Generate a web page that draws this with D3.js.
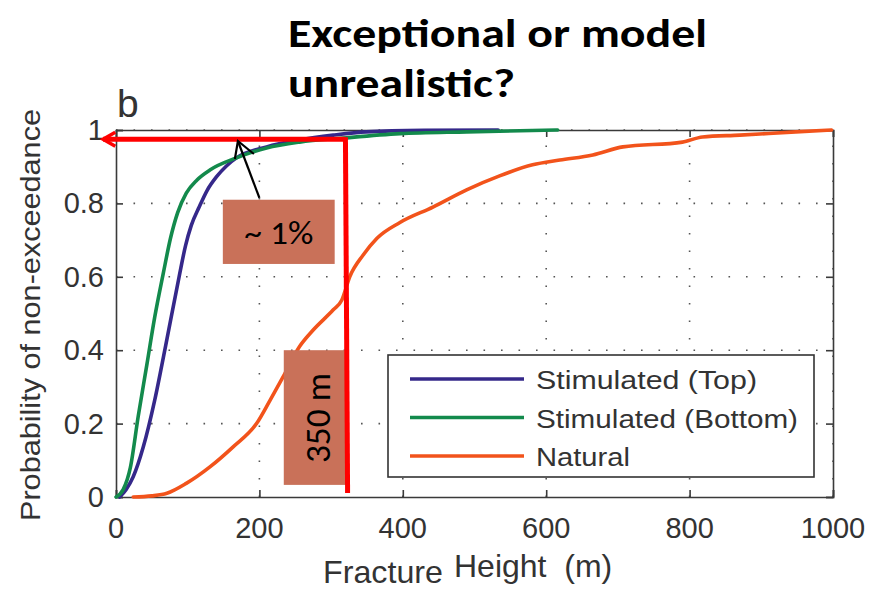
<!DOCTYPE html>
<html>
<head>
<meta charset="utf-8">
<script src="https://cdn.jsdelivr.net/npm/d3@7"></script>
<style>
  body { margin: 0; background: #fff; }
  svg { display: block; }
</style>
</head>
<body>
<div id="chart"></div>
<script>
// CDF curves: fracture height (m) vs probability
const topHeight = [5, 14, 24, 38, 54, 69, 88, 97, 105, 116, 127, 140, 154, 168, 210, 256, 303, 349, 430, 533];
const topProb   = [0, 0.02, 0.055, 0.136, 0.264, 0.41, 0.6, 0.685, 0.74, 0.79, 0.835, 0.872, 0.902, 0.924, 0.954, 0.973, 0.986, 0.995, 0.999, 1];

const bottomHeight = [0, 10, 20, 31, 43, 54, 66, 76, 86, 98, 113, 131, 168, 210, 256, 317, 396, 489, 616];
const bottomProb   = [0, 0.02, 0.08, 0.22, 0.36, 0.49, 0.61, 0.705, 0.775, 0.828, 0.864, 0.891, 0.924, 0.951, 0.967, 0.978, 0.99, 0.995, 1];

const naturalHeight = [24, 50, 71, 98, 131, 163, 196, 215, 233, 256, 275, 303, 315, 326, 345, 364, 396, 442, 489, 535, 581, 619, 665, 707, 790, 818, 870, 948, 998];
const naturalProb   = [0, 0.003, 0.01, 0.037, 0.082, 0.136, 0.2, 0.264, 0.327, 0.41, 0.455, 0.51, 0.537, 0.6, 0.66, 0.705, 0.748, 0.79, 0.837, 0.875, 0.905, 0.918, 0.932, 0.954, 0.967, 0.981, 0.986, 0.995, 1];

const seriesNames = ['Stimulated (Top)', 'Stimulated (Bottom)', 'Natural'];
const xTicks = [0, 200, 400, 600, 800, 1000];
const yTicks = [0, 0.2, 0.4, 0.6, 0.8, 1];

// annotation positions in data units
const markHeight = 320;
const markProb = 0.975;

const WIDTH = 878;
const HEIGHT = 590;
const colors = ['#35288a', '#138a4c', '#f2531b'];
const tickFont = '"Liberation Sans", Arial, sans-serif';
const noteFont = 'Carlito, Lato, "Open Sans", sans-serif';

const svg = d3.select('#chart')
    .append('svg')
    .attr('width', WIDTH)
    .attr('height', HEIGHT);

const xScale = d3.scaleLinear().domain([0, 1000]).range([116, 833]);
const yScale = d3.scaleLinear().domain([0, 1]).range([497, 130]);

// dotted grid
svg.append('g')
    .selectAll('line')
    .data(xTicks.slice(1))
    .enter()
    .append('line')
    .attr('x1', d => xScale(d))
    .attr('x2', d => xScale(d))
    .attr('y1', yScale(0))
    .attr('y2', yScale(1))
    .attr('stroke', '#555')
    .attr('stroke-width', 1.6)
    .attr('stroke-dasharray', '1.6,15.9');

svg.append('g')
    .selectAll('line')
    .data(yTicks.slice(1))
    .enter()
    .append('line')
    .attr('x1', xScale(0))
    .attr('x2', xScale(1000))
    .attr('y1', d => yScale(d))
    .attr('y2', d => yScale(d))
    .attr('stroke', '#555')
    .attr('stroke-width', 1.6)
    .attr('stroke-dasharray', '1.6,15.9');

// axes box with inward ticks
const bottomAxis = d3.axisBottom(xScale).tickValues(xTicks).tickSize(-7).tickFormat('');
const topAxis = d3.axisTop(xScale).tickValues(xTicks).tickSize(-7).tickFormat('');
const leftAxis = d3.axisLeft(yScale).tickValues(yTicks).tickSize(-7).tickFormat('');
const rightAxis = d3.axisRight(yScale).tickValues(yTicks).tickSize(-7).tickFormat('');

[[bottomAxis, `translate(0,${yScale(0)})`], [topAxis, `translate(0,${yScale(1)})`],
 [leftAxis, `translate(${xScale(0)},0)`], [rightAxis, `translate(${xScale(1000)},0)`]]
    .forEach(([ax, tr]) => {
        const g = svg.append('g').attr('transform', tr).call(ax);
        g.selectAll('path, line').attr('stroke', '#3a3a3a').attr('stroke-width', 1.6);
    });

// tick labels
svg.append('g')
    .selectAll('text')
    .data(xTicks)
    .enter()
    .append('text')
    .attr('x', d => xScale(d))
    .attr('y', 538)
    .attr('text-anchor', 'middle')
    .attr('font-family', tickFont)
    .attr('font-size', 29)
    .attr('fill', '#333')
    .text(d => d);

svg.append('g')
    .selectAll('text')
    .data(yTicks)
    .enter()
    .append('text')
    .attr('x', 104)
    .attr('y', d => yScale(d) + 10)
    .attr('text-anchor', 'end')
    .attr('font-family', tickFont)
    .attr('font-size', 29)
    .attr('fill', '#333')
    .text(d => d);

// axis titles
svg.append('text')
    .attr('transform', 'translate(40,315) rotate(-90)')
    .attr('text-anchor', 'middle')
    .attr('font-family', tickFont)
    .attr('font-size', 28)
    .attr('fill', '#333')
    .attr('textLength', 412)
    .attr('lengthAdjust', 'spacingAndGlyphs')
    .text('Probability of non-exceedance');

svg.append('text')
    .attr('x', 323).attr('y', 583)
    .attr('font-family', tickFont)
    .attr('font-size', 32)
    .attr('fill', '#333')
    .attr('textLength', 120)
    .attr('lengthAdjust', 'spacingAndGlyphs')
    .text('Fracture');

svg.append('text')
    .attr('x', 454).attr('y', 577)
    .attr('font-family', tickFont)
    .attr('font-size', 32)
    .attr('fill', '#333')
    .attr('xml:space', 'preserve')
    .text('Height  (m)');

svg.append('text')
    .attr('x', 117).attr('y', 117)
    .attr('font-family', tickFont)
    .attr('font-size', 39)
    .attr('fill', '#333')
    .text('b');

// curves
const line = d3.line()
    .x(d => xScale(d[0]))
    .y(d => yScale(d[1]))
    .curve(d3.curveMonotoneX);

const series = [
    d3.zip(topHeight, topProb),
    d3.zip(bottomHeight, bottomProb),
    d3.zip(naturalHeight, naturalProb)
];

svg.append('g')
    .selectAll('path')
    .data(series)
    .enter()
    .append('path')
    .attr('d', line)
    .attr('fill', 'none')
    .attr('stroke', (d, i) => colors[i])
    .attr('stroke-width', 3.6)
    .attr('stroke-linejoin', 'round')
    .attr('stroke-linecap', 'round');

// legend
svg.append('rect')
    .attr('x', 388).attr('y', 355)
    .attr('width', 426).attr('height', 122)
    .attr('fill', '#fff')
    .attr('stroke', '#333')
    .attr('stroke-width', 1.6);

const legendWidths = [221, 262, 94];
const legend = svg.append('g')
    .selectAll('g')
    .data(seriesNames)
    .enter()
    .append('g')
    .attr('transform', (d, i) => `translate(0,${379 + i * 38.5})`);

legend.append('line')
    .attr('x1', 410).attr('x2', 524)
    .attr('stroke', (d, i) => colors[i])
    .attr('stroke-width', 3.6);

legend.append('text')
    .attr('x', 536).attr('y', 10)
    .attr('font-family', tickFont)
    .attr('font-size', 26)
    .attr('fill', '#333')
    .attr('textLength', (d, i) => legendWidths[i])
    .attr('lengthAdjust', 'spacingAndGlyphs')
    .text(d => d);

// annotation boxes
const noteFill = '#c97159';

svg.append('rect')
    .attr('x', xScale(149)).attr('y', yScale(0.81))
    .attr('width', xScale(305) - xScale(149))
    .attr('height', yScale(0.635) - yScale(0.81))
    .attr('fill', noteFill);

svg.append('text')
    .attr('x', xScale(227)).attr('y', 244)
    .attr('text-anchor', 'middle')
    .attr('font-family', noteFont)
    .attr('font-size', 32)
    .attr('fill', '#000')
    .attr('textLength', 69)
    .attr('lengthAdjust', 'spacingAndGlyphs')
    .text('~ 1%');

svg.append('rect')
    .attr('x', xScale(234)).attr('y', yScale(0.4))
    .attr('width', xScale(321) - xScale(234))
    .attr('height', yScale(0.033) - yScale(0.4))
    .attr('fill', noteFill);

svg.append('text')
    .attr('transform', `translate(${xScale(298)},${yScale(0.215)}) rotate(-90)`)
    .attr('text-anchor', 'middle')
    .attr('font-family', noteFont)
    .attr('font-size', 34)
    .attr('fill', '#000')
    .attr('textLength', 90)
    .attr('lengthAdjust', 'spacingAndGlyphs')
    .text('350 m');

// red marker lines
svg.append('path')
    .attr('d', `M${xScale(markHeight)},${yScale(markProb)} L${xScale(-18)},${yScale(markProb)}`)
    .attr('stroke', '#ff0000')
    .attr('stroke-width', 5)
    .attr('fill', 'none');

svg.append('path')
    .attr('d', `M${xScale(-1)},${yScale(markProb) - 7} L${xScale(-18)},${yScale(markProb)} L${xScale(-1)},${yScale(markProb) + 7}`)
    .attr('stroke', '#ff0000')
    .attr('stroke-width', 3.5)
    .attr('stroke-linejoin', 'miter')
    .attr('fill', 'none');

svg.append('path')
    .attr('d', `M${xScale(markHeight)},${yScale(markProb) - 2} L${xScale(323)},${yScale(0.011)}`)
    .attr('stroke', '#ff0000')
    .attr('stroke-width', 5)
    .attr('fill', 'none');

// black pointer arrow
const tipX = xScale(170), tipY = yScale(0.97);
svg.append('path')
    .attr('d', `M${xScale(200)},${yScale(0.815)} L${tipX},${tipY}`)
    .attr('stroke', '#000')
    .attr('stroke-width', 2.2)
    .attr('fill', 'none');

svg.append('path')
    .attr('d', `M${tipX - 3},${tipY + 18} L${tipX},${tipY} L${tipX + 16},${tipY + 13}`)
    .attr('stroke', '#000')
    .attr('stroke-width', 2.2)
    .attr('fill', 'none');

// slide title
const title = svg.append('text')
    .attr('font-family', noteFont)
    .attr('font-weight', 'bold')
    .attr('font-size', 40)
    .attr('fill', '#000');

title.append('tspan')
    .attr('x', 288).attr('y', 47)
    .attr('textLength', 419)
    .attr('lengthAdjust', 'spacingAndGlyphs')
    .text('Exceptional or model');

title.append('tspan')
    .attr('x', 288).attr('y', 97)
    .attr('textLength', 227)
    .attr('lengthAdjust', 'spacingAndGlyphs')
    .text('unrealistic?');
</script>
</body>
</html>
